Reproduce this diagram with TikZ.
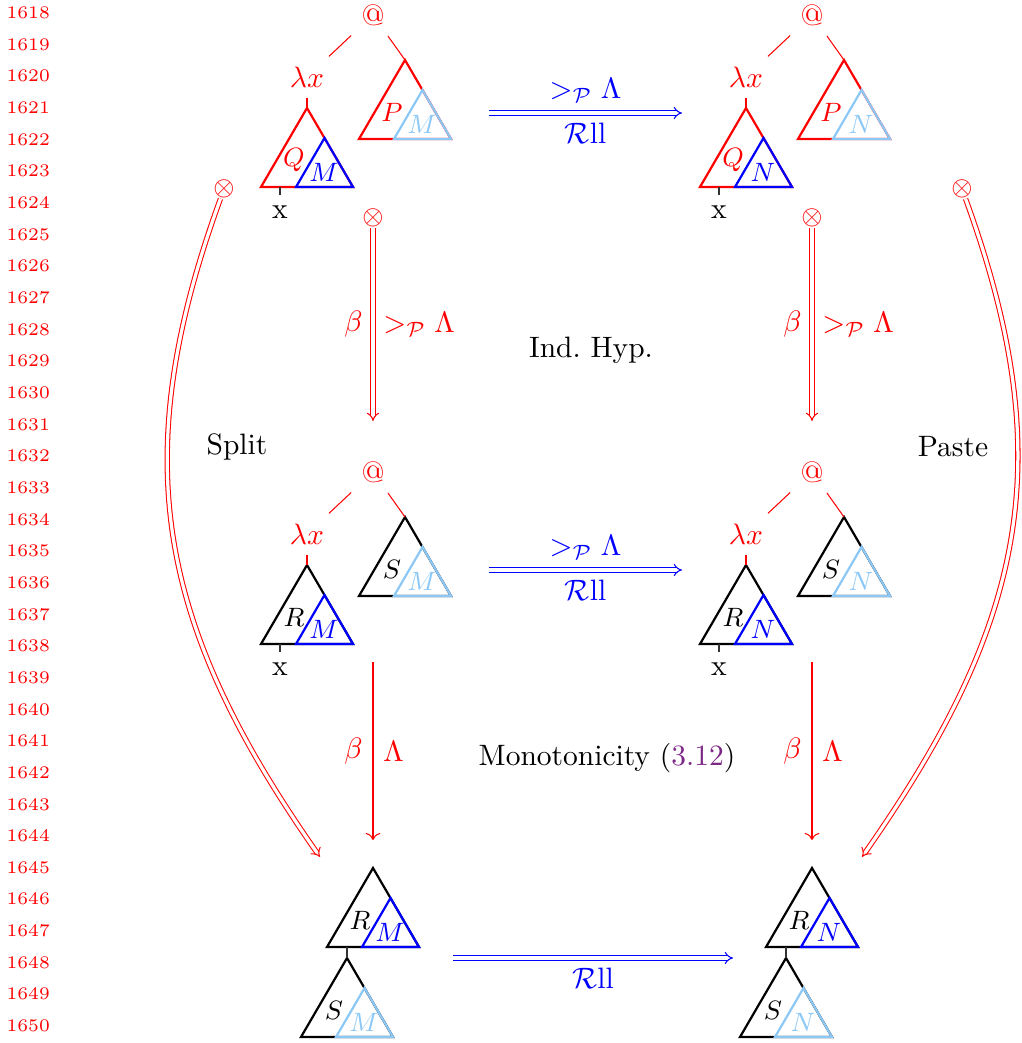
\documentclass[tikz,border=0pt]{standalone}
\usetikzlibrary{arrows.meta,calc}

\definecolor{lightblue}{RGB}{140,200,245}
\definecolor{citepurple}{RGB}{125,40,135}

\tikzset{
  lineno/.style={red, font=\fontsize{6}{7}\selectfont, anchor=west, inner sep=0pt},
  term/.style={red},
  edge/.style={red, line width=0.35pt},
  var/.style={black!80, line width=0.4pt},
  tree/.style={line width=0.75pt, line join=miter},
  sub/.style={font=\small},
  cut/.style={red, inner sep=0pt, font=\small},
  dbl/.style={double, double distance=1.1pt, line width=0.35pt, -{Implies}},
  single/.style={red, line width=0.35pt, ->},
}

\begin{document}
\begin{tikzpicture}[x=0.339pt, y=-0.339pt]

  \newcommand\Dx{439}
  \newcommand\Dy{457}
  % #1 name, #2 apex, #3 outer colour, #4 inner colour, #5 outer label, #6 inner label
  \newcommand\tri[6]{
    \coordinate (#1) at #2;
    \draw[tree, #3] (#1) -- ++(46,79) -- ++(-92,0) -- cycle;
    \draw[tree, #4] ($(#1)+(17.5,30)$) -- ($(#1)+(46,79)$) -- ($(#1)+(-11,79)$) -- cycle;
    \node[sub, #3] (#1-out) at ($(#1)+(-13,52)$) {$#5$};
    \node[sub, #4] (#1-in) at ($(#1)+(17,64)$) {$#6$};
  }

  \useasboundingbox (0,0) rectangle (1021,1043);

  % line numbers
  \foreach \n in {0,...,32} {
    \pgfmathtruncatemacro\lnum{1618+\n}
    \node[lineno] (ln\n) at (6, 13+31.65*\n) {\lnum};
  }

  % top row
  \node[term] (atA) at (373,15) {@};
  \node[term] (lamA) at (307,77) {$\lambda x$};
  \tri{QA}{(307,108)}{red}{blue}{Q}{M}
  \tri{PA}{(405,60)}{red}{lightblue}{P}{M}
  \draw[edge] (atA) -- (lamA);
  \draw[edge] (atA) -- (PA);
  \draw[edge] (lamA) -- (QA);
  \coordinate (QAb) at ($(QA)+(-27,79)$);
  \node (xA) at (280,212) {x};
  \draw[var] (QAb) -- (xA);

  \node[term] (atB) at (373+\Dx,15) {@};
  \node[term] (lamB) at (307+\Dx,77) {$\lambda x$};
  \tri{QB}{(307+\Dx,108)}{red}{blue}{Q}{N}
  \tri{PB}{(405+\Dx,60)}{red}{lightblue}{P}{N}
  \draw[edge] (atB) -- (lamB);
  \draw[edge] (atB) -- (PB);
  \draw[edge] (lamB) -- (QB);
  \coordinate (QBb) at ($(QB)+(-27,79)$);
  \node (xB) at (280+\Dx,212) {x};
  \draw[var] (QBb) -- (xB);

  % middle row
  \node[term] (atC) at (373,15+\Dy) {@};
  \node[term] (lamC) at (307,77+\Dy) {$\lambda x$};
  \tri{RC}{(307,108+\Dy)}{black}{blue}{R}{M}
  \tri{SC}{(405,60+\Dy)}{black}{lightblue}{S}{M}
  \draw[edge] (atC) -- (lamC);
  \draw[edge] (atC) -- (SC);
  \draw[edge] (lamC) -- (RC);
  \coordinate (RCb) at ($(RC)+(-27,79)$);
  \node (xC) at (280,212+\Dy) {x};
  \draw[var] (RCb) -- (xC);

  \node[term] (atD) at (373+\Dx,15+\Dy) {@};
  \node[term] (lamD) at (307+\Dx,77+\Dy) {$\lambda x$};
  \tri{RD}{(307+\Dx,108+\Dy)}{black}{blue}{R}{N}
  \tri{SD}{(405+\Dx,60+\Dy)}{black}{lightblue}{S}{N}
  \draw[edge] (atD) -- (lamD);
  \draw[edge] (atD) -- (SD);
  \draw[edge] (lamD) -- (RD);
  \coordinate (RDb) at ($(RD)+(-27,79)$);
  \node (xD) at (280+\Dx,212+\Dy) {x};
  \draw[var] (RDb) -- (xD);

  % bottom row
  \tri{RE}{(373,868)}{black}{blue}{R}{M}
  \tri{SE}{(347,958)}{black}{lightblue}{S}{M}
  \draw[var] ($(RE)+(-26,79)$) -- (SE);

  \tri{RF}{(373+\Dx,868)}{black}{blue}{R}{N}
  \tri{SF}{(347+\Dx,958)}{black}{lightblue}{S}{N}
  \draw[var] ($(RF)+(-26,79)$) -- (SF);

  % horizontal rewrites
  \coordinate (hA0) at (489,113);
  \coordinate (hA1) at (682,113);
  \draw[blue, dbl] (hA0) -- node[above]{$>_{\mathcal{P}}\Lambda$}
    node[below]{$\mathcal{R}$ll} (hA1);
  \coordinate (hC0) at (489,113+\Dy);
  \coordinate (hC1) at (682,113+\Dy);
  \draw[blue, dbl] (hC0) -- node[above]{$>_{\mathcal{P}}\Lambda$}
    node[below]{$\mathcal{R}$ll} (hC1);
  \coordinate (hE0) at (453,958);
  \coordinate (hE1) at (733,958);
  \draw[blue, dbl] (hE0) -- node[below]{$\mathcal{R}$ll} (hE1);

  % vertical rewrites
  \node[cut] (cutA) at (373,218) {$\otimes$};
  \coordinate (vA1) at (373,421);
  \draw[red, dbl] (cutA) -- node[left]{$\beta$}
    node[right]{$>_{\mathcal{P}}\Lambda$} (vA1);
  \node[cut] (cutB) at (373+\Dx,218) {$\otimes$};
  \coordinate (vB1) at (373+\Dx,421);
  \draw[red, dbl] (cutB) -- node[left]{$\beta$}
    node[right]{$>_{\mathcal{P}}\Lambda$} (vB1);

  \coordinate (vC0) at (373,662);
  \coordinate (vC1) at (373,840);
  \draw[single] (vC0) -- node[left]{$\beta$} node[right]{$\Lambda$} (vC1);
  \coordinate (vD0) at (373+\Dx,662);
  \coordinate (vD1) at (373+\Dx,840);
  \draw[single] (vD0) -- node[left]{$\beta$} node[right]{$\Lambda$} (vD1);

  % split and paste
  \node[cut] (cutS) at (224,189) {$\otimes$};
  \coordinate (splitEnd) at (320,857);
  \draw[red, dbl] (cutS) to[out=250, in=125, looseness=1.08] (splitEnd);
  \node[cut] (cutP) at (962,189) {$\otimes$};
  \coordinate (pasteEnd) at (862,857);
  \draw[red, dbl] (cutP) to[out=290, in=55, looseness=1.08] (pasteEnd);

  \node (ih) at (591,350) {Ind.\ Hyp.};
  \node (split) at (237,447) {Split};
  \node (paste) at (953,447) {Paste};
  \node (mono) at (607,758) {Monotonicity ({\color{citepurple}3.12})};

\end{tikzpicture}
\end{document}
